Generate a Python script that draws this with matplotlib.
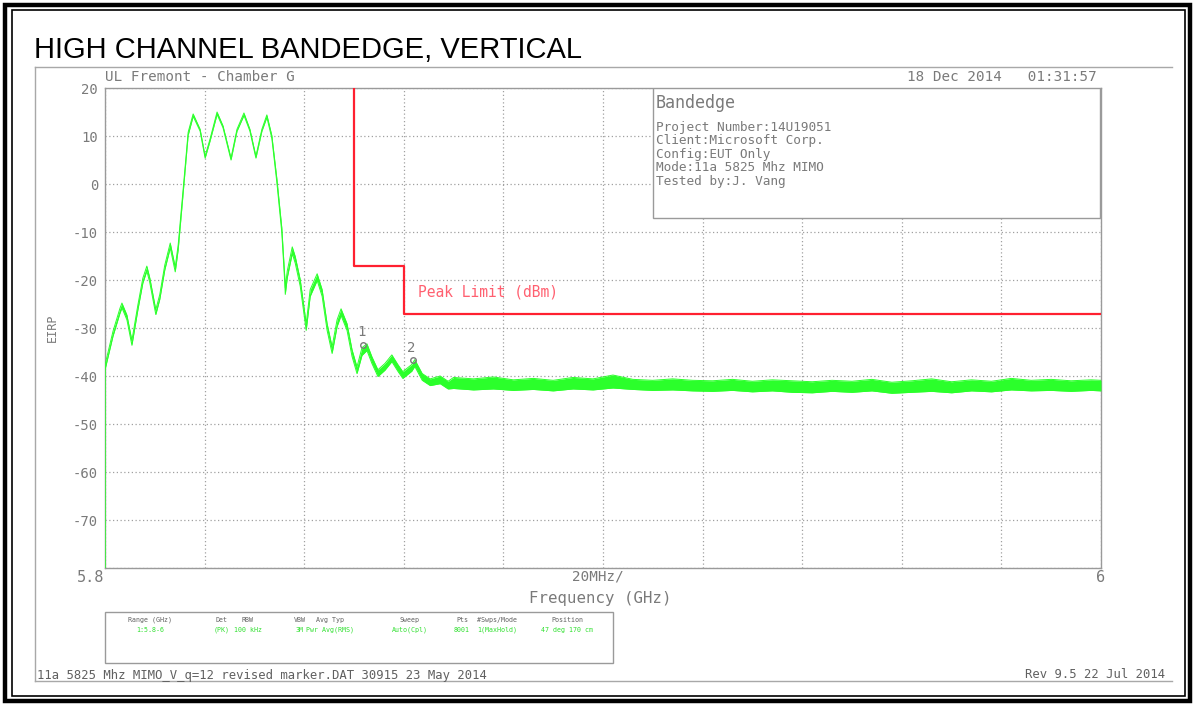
import matplotlib
matplotlib.use('Agg')
import matplotlib.pyplot as plt
from matplotlib.patches import Rectangle
from matplotlib.lines import Line2D

freq = [5.8000, 5.8000, 5.8016, 5.8030, 5.8034, 5.8044, 5.8054, 5.8066, 5.8076, 5.8084,
        5.8090, 5.8102, 5.8110, 5.8120, 5.8131, 5.8141, 5.8147, 5.8157, 5.8167, 5.8177,
        5.8191, 5.8201, 5.8211, 5.8225, 5.8237, 5.8253, 5.8265, 5.8279, 5.8291, 5.8303,
        5.8315, 5.8325, 5.8335, 5.8345, 5.8355, 5.8361, 5.8362, 5.8366, 5.8376, 5.8382,
        5.8392, 5.8404, 5.8412, 5.8426, 5.8436, 5.8446, 5.8456, 5.8466, 5.8474, 5.8486,
        5.8496, 5.8506, 5.8516, 5.8526, 5.8536, 5.8548, 5.8562, 5.8576, 5.8588, 5.8598,
        5.8616, 5.8622, 5.8637, 5.8653, 5.8673, 5.8689,
        5.870, 5.874, 5.878, 5.882, 5.886, 5.890, 5.894, 5.898, 5.902, 5.906,
        5.910, 5.914, 5.918, 5.922, 5.926, 5.930, 5.934, 5.938, 5.942, 5.946,
        5.950, 5.954, 5.958, 5.962, 5.966, 5.970, 5.974, 5.978, 5.982, 5.986,
        5.990, 5.994, 5.998, 6.000]
lower = [-80.0, -38.7, -31.7, -26.9, -25.8, -28.3, -33.6, -26.2, -20.6, -18.1,
         -20.6, -27.2, -24.0, -17.9, -13.3, -18.3, -13.6, -1.8, 10.2, 14.1,
         11.0, 5.4, 9.0, 14.5, 11.7, 5.0, 11.0, 14.3, 11.0, 5.4,
         11.0, 13.9, 9.5, 0.4, -10.1, -20.6, -23.0, -19.5, -14.5, -16.5,
         -21.3, -30.5, -23.4, -20.1, -23.4, -30.5, -35.3, -29.7, -27.4, -30.5,
         -35.9, -39.5, -35.7, -34.7, -37.4, -40.1, -38.8, -37.0, -39.0, -40.5,
         -39.0, -38.0, -40.9, -42.0, -41.6, -42.7,
         -42.6, -42.9, -42.7, -43.0, -42.8, -43.1, -42.7, -42.9, -42.5, -42.8,
         -43.0, -42.9, -43.1, -43.2, -43.0, -43.3, -43.1, -43.4, -43.5, -43.2,
         -43.4, -43.1, -43.6, -43.4, -43.2, -43.5, -43.1, -43.3, -42.9, -43.1,
         -43.0, -43.2, -43.0, -43.1]
upper = [-80.0, -37.7, -30.7, -25.9, -24.8, -27.3, -32.6, -25.2, -19.6, -17.1,
         -19.6, -26.2, -23.0, -16.9, -12.3, -17.3, -12.6, -1.0, 10.8, 14.6,
         11.4, 5.8, 9.4, 15.0, 12.1, 5.4, 11.4, 14.8, 11.4, 5.8,
         11.4, 14.4, 10.1, 1.2, -9.1, -19.4, -21.6, -18.1, -13.1, -15.1,
         -19.9, -29.1, -22.0, -18.7, -22.0, -29.1, -33.9, -28.3, -26.0, -29.1,
         -34.5, -38.1, -34.1, -33.3, -36.0, -38.7, -37.4, -35.6, -37.6, -39.1,
         -37.6, -36.6, -39.5, -40.6, -40.0, -41.1,
         -40.3, -40.6, -40.2, -40.8, -40.5, -40.9, -40.3, -40.6, -39.8, -40.7,
         -40.9, -40.6, -40.9, -41.0, -40.7, -41.1, -40.8, -41.0, -41.2, -40.9,
         -41.1, -40.7, -41.3, -41.0, -40.6, -41.2, -40.8, -41.1, -40.5, -40.9,
         -40.7, -41.0, -40.8, -40.9]

limit_freq = [5.85, 5.85, 5.86, 5.86, 6.0]
limit_db = [20, -17, -17, -27, -27]

marker_freq = [5.8518, 5.8618]
marker_db = [-33.5, -36.7]
marker_names = ['1', '2']

ytick_vals = [20, 10, 0, -10, -20, -30, -40, -50, -60, -70, -80]
ytick_text = ['20', '10', '0', '-10', '-20', '-30', '-40', '-50', '-60', '-70', '']

info_lines = ['Project Number:14U19051', 'Client:Microsoft Corp.', 'Config:EUT Only',
              'Mode:11a 5825 Mhz MIMO', 'Tested by:J. Vang']

leg_heads = ['Range (GHz)', 'Det', 'RBW', 'VBW', 'Avg Typ', 'Sweep', 'Pts', '#Swps/Mode', 'Position']
leg_vals = ['1:5.8-6', '(PK)', '100 kHz', '3M', 'Pwr Avg(RMS)', 'Auto(Cpl)', '8001', '1(MaxHold)', '47 deg 170 cm']
leg_x = [150, 222, 248, 300, 330, 410, 462, 497, 567]

W, H = 1195, 706
GREEN = '#2bff2b'
GREY = '#7a7a7a'
MONO = 'DejaVu Sans Mono'

def px(x, y):
    return x / W, 1 - y / H

fig = plt.figure(figsize=(W / 100, H / 100), dpi=100)

# black double frame round the page
fig.patches.append(Rectangle(px(5, 701), 1185 / W, 696 / H, transform=fig.transFigure,
                             fill=False, ec='black', lw=3.2))
fig.patches.append(Rectangle(px(12, 696), 1173 / W, 686 / H, transform=fig.transFigure,
                             fill=False, ec='black', lw=1.2))
# grey frame of the analyser plot
for xs, ys in [([35, 1172], [67, 67]), ([35, 35], [67, 681]), ([35, 1172], [681, 681])]:
    fig.add_artist(Line2D([x / W for x in xs], [1 - y / H for y in ys], color='#a8a8a8', lw=1))

fig.text(*px(34, 50), 'HIGH CHANNEL BANDEDGE, VERTICAL', fontsize=21, family='Liberation Sans',
         va='center', ha='left', color='black')

ax = fig.add_axes([105 / W, 138 / H, 996 / W, 480 / H])
ax.set_xlim(5.8, 6.0)
ax.set_ylim(-80, 20)
ax.set_xticks([5.8 + 0.02 * i for i in range(11)])
ax.set_xticklabels([])
ax.set_yticks(ytick_vals)
ax.set_yticklabels(ytick_text, family=MONO, fontsize=10, color=GREY)
ax.tick_params(length=0, pad=5)
ax.tick_params(axis='x', length=0)
ax.grid(True, ls=(0, (1, 2)), color='#a0a0a0', lw=0.9)
for s in ax.spines.values():
    s.set_color('#9a9a9a')
    s.set_linewidth(1)

ax.fill_between(freq, lower, upper, color=GREEN, lw=0, zorder=3)
ax.plot(freq, upper, color=GREEN, lw=0.7, zorder=3)
ax.plot(freq, lower, color=GREEN, lw=0.7, zorder=3)

ax.plot(limit_freq, limit_db, color='#ff2030', lw=1.6, zorder=4)
ax.text(5.8629, -22.4, 'Peak Limit (dBm)', family=MONO, fontsize=10.5, color='#ff6070',
        va='center', ha='left')

ax.plot(marker_freq, marker_db, 'o', mfc='none', mec=GREY, ms=4, mew=1, zorder=5)
for f, d, n in zip(marker_freq, marker_db, marker_names):
    ax.annotate(n, (f, d), xytext=(-1, 9), textcoords='offset points', ha='center',
                va='center', family=MONO, fontsize=10, color=GREY, zorder=5)

# info box
ax.add_patch(Rectangle((0.55, 0.729), 0.449, 0.271, transform=ax.transAxes,
                       fc='white', ec='#9a9a9a', lw=1, zorder=6))
fig.text(*px(656, 103), 'Bandedge', family=MONO, fontsize=12, color=GREY, va='center', zorder=7)
for i, line in enumerate(info_lines):
    fig.text(*px(656, 127 + 13.6 * i), line, family=MONO, fontsize=9.2, color=GREY,
             va='center', zorder=7)

fig.text(*px(105, 77), 'UL Fremont - Chamber G', family=MONO, fontsize=10.3, color=GREY, va='center')
fig.text(*px(1097, 77), '18 Dec 2014   01:31:57', family=MONO, fontsize=10.3, color=GREY,
         va='center', ha='right')

fig.text(*px(104, 578), '5.8', family=MONO, fontsize=11, color=GREY, va='center', ha='right')
fig.text(*px(1101, 578), '6', family=MONO, fontsize=11, color=GREY, va='center', ha='center')
fig.text(*px(598, 577), '20MHz/', family=MONO, fontsize=10.3, color=GREY, va='center', ha='center')
fig.text(*px(600, 599), 'Frequency (GHz)', family=MONO, fontsize=11.3, color=GREY, va='center', ha='center')
fig.text(*px(52, 328), 'EIRP', family=MONO, fontsize=8.5, color=GREY, va='center', ha='center',
         rotation=90)

# setup box under the plot
fig.patches.append(Rectangle(px(105, 663), 508 / W, 51 / H, transform=fig.transFigure,
                             fill=False, ec='#9a9a9a', lw=1))
for x, h, v in zip(leg_x, leg_heads, leg_vals):
    fig.text(*px(x, 620), h, family=MONO, fontsize=4.8, color='#606060', va='center', ha='center')
    fig.text(*px(x, 630), v, family=MONO, fontsize=4.8, color='#30e030', va='center', ha='center')

fig.text(*px(37, 675), '11a 5825 Mhz MIMO_V_q=12 revised marker.DAT 30915 23 May 2014',
         family=MONO, fontsize=8.8, color='#606060', va='center', ha='left')
fig.text(*px(1165, 675), 'Rev 9.5 22 Jul 2014', family=MONO, fontsize=8.8, color='#606060',
         va='center', ha='right')

fig.savefig('out.png', dpi=100)
